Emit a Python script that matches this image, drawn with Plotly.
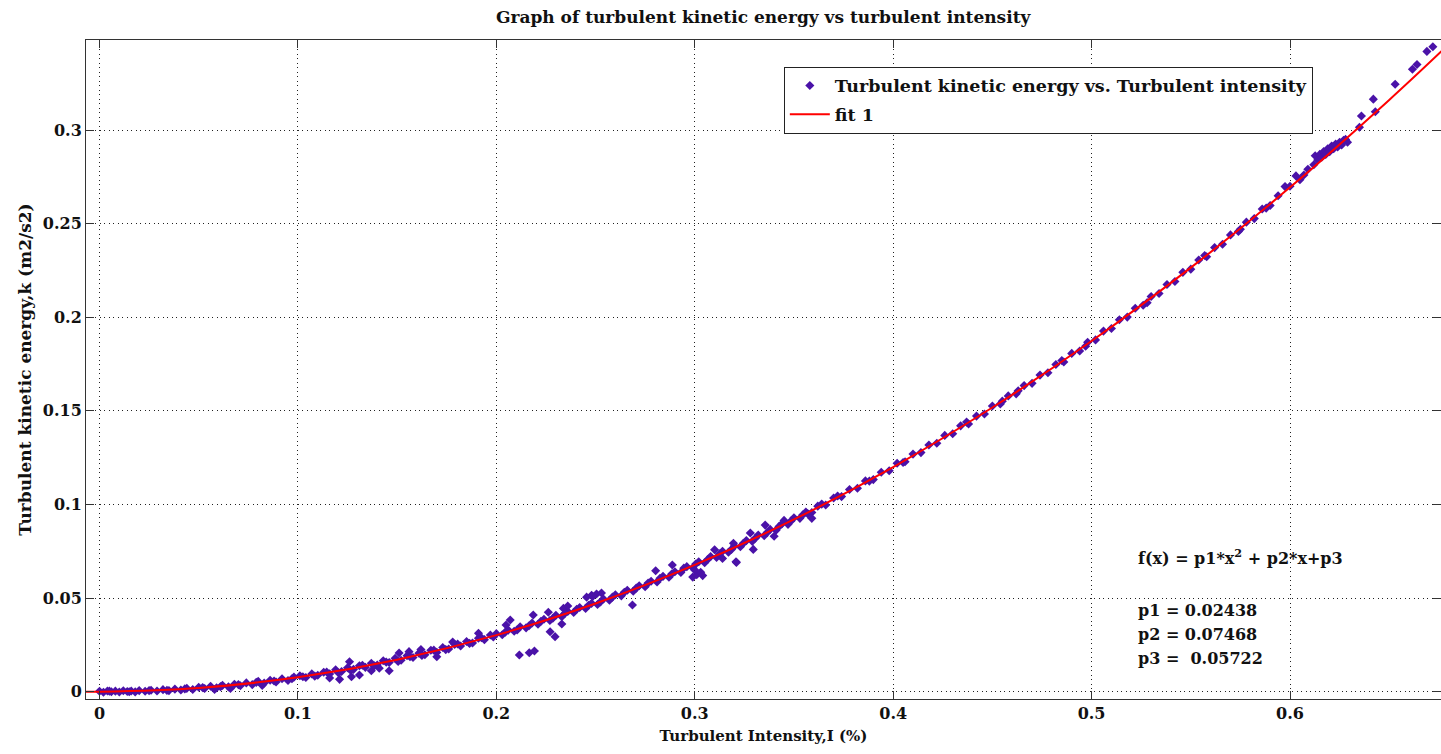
import plotly.graph_objects as go

# ---- data ----
# measured points: turbulent intensity (x) and turbulent kinetic energy (y)
intensity_low = [0.000, 0.002, 0.004, 0.006, 0.008, 0.010, 0.012, 0.014, 0.016, 0.018,
                 0.020, 0.023, 0.026, 0.029, 0.032, 0.035, 0.038, 0.041, 0.044, 0.047,
                 0.050, 0.053, 0.056, 0.059, 0.062, 0.065, 0.068, 0.071, 0.074, 0.077,
                 0.080, 0.083, 0.086, 0.089, 0.092, 0.095, 0.098, 0.082, 0.066, 0.058,
                 0.005, 0.015, 0.025, 0.034, 0.043, 0.052, 0.061, 0.070, 0.079, 0.088, 0.097]
tke_low = [0.0002, -0.0003, 0.0004, 0.0000, 0.0003, -0.0002, 0.0005, 0.0001, 0.0004, -0.0001,
           0.0006, 0.0002, 0.0008, 0.0004, 0.0011, 0.0006, 0.0014, 0.0009, 0.0018, 0.0012,
           0.0024, 0.0017, 0.0029, 0.0021, 0.0034, 0.0026, 0.0040, 0.0032, 0.0047, 0.0038,
           0.0055, 0.0046, 0.0061, 0.0052, 0.0069, 0.0060, 0.0078, 0.0034, 0.0017, 0.0012,
           0.0003, 0.0000, 0.0006, 0.0007, 0.0015, 0.0022, 0.0027, 0.0038, 0.0050, 0.0057, 0.0069]

intensity_mid = [0.101, 0.104, 0.107, 0.110, 0.113, 0.116, 0.119, 0.122, 0.125, 0.128,
                 0.131, 0.134, 0.137, 0.140, 0.143, 0.146, 0.149, 0.152, 0.155, 0.158,
                 0.161, 0.164, 0.167, 0.170, 0.173, 0.176, 0.179, 0.182, 0.185, 0.188,
                 0.191, 0.194, 0.197,
                 0.116, 0.121, 0.127, 0.131, 0.137, 0.141, 0.146, 0.126, 0.151, 0.156,
                 0.170, 0.191, 0.162, 0.178,
                 0.1025, 0.1085, 0.1145, 0.1205, 0.1265, 0.1325, 0.1385, 0.1445, 0.1505,
                 0.1565, 0.1625, 0.1685, 0.1745, 0.1805, 0.1865, 0.1925, 0.1985]
tke_mid = [0.0085, 0.0076, 0.0095, 0.0088, 0.0104, 0.0095, 0.0117, 0.0108, 0.0128, 0.0119,
           0.0139, 0.0130, 0.0152, 0.0143, 0.0165, 0.0156, 0.0178, 0.0168, 0.0192, 0.0183,
           0.0206, 0.0197, 0.0221, 0.0210, 0.0236, 0.0228, 0.0253, 0.0244, 0.0268, 0.0260,
           0.0286, 0.0278, 0.0303,
           0.0073, 0.0066, 0.0080, 0.0089, 0.0112, 0.0125, 0.0112, 0.0160, 0.0207, 0.0214,
           0.0187, 0.0312, 0.0225, 0.0265,
           0.0080, 0.0083, 0.0105, 0.0100, 0.0115, 0.0141, 0.0138, 0.0158, 0.0161,
           0.0187, 0.0193, 0.0222, 0.0225, 0.0255, 0.0258, 0.0288, 0.0292]

intensity_noisy = [0.200, 0.203, 0.206, 0.209, 0.212, 0.215, 0.218, 0.221, 0.224, 0.227,
                   0.230, 0.233, 0.236, 0.239, 0.242, 0.245, 0.248, 0.251, 0.254, 0.257,
                   0.260, 0.263, 0.266, 0.269, 0.272, 0.275, 0.278, 0.281, 0.284, 0.287,
                   0.290, 0.293, 0.296, 0.299, 0.302, 0.305, 0.308, 0.311, 0.314, 0.317,
                   0.320, 0.323, 0.326, 0.329, 0.332, 0.335, 0.338, 0.341, 0.344, 0.347,
                   0.350, 0.353, 0.356, 0.359,
                   0.2116, 0.2166, 0.2192, 0.2296, 0.2271, 0.2330, 0.2070, 0.2186, 0.2262,
                   0.2338, 0.2360, 0.2455, 0.2480, 0.2505, 0.2530, 0.2486, 0.2686, 0.2803,
                   0.2887, 0.2990, 0.3010, 0.3030, 0.3040, 0.3000, 0.3208, 0.3195, 0.2049,
                   0.3210, 0.3295, 0.3355, 0.3590, 0.3280, 0.3100, 0.3140, 0.3400, 0.3450,
                   0.2045, 0.2105, 0.2165, 0.2225, 0.2285, 0.2345, 0.2405, 0.2465, 0.2525,
                   0.2585, 0.2645, 0.2705, 0.2765, 0.2825, 0.2885, 0.2945, 0.3005, 0.3065,
                   0.3125, 0.3185, 0.3245, 0.3305, 0.3365, 0.3425, 0.3485, 0.3545]
tke_noisy = [0.0310, 0.0304, 0.0329, 0.0323, 0.0347, 0.0341, 0.0367, 0.0360, 0.0387, 0.0380,
             0.0408, 0.0401, 0.0429, 0.0423, 0.0450, 0.0445, 0.0472, 0.0466, 0.0495, 0.0489,
             0.0518, 0.0512, 0.0542, 0.0537, 0.0566, 0.0561, 0.0590, 0.0586, 0.0616, 0.0611,
             0.0641, 0.0637, 0.0668, 0.0662, 0.0694, 0.0689, 0.0722, 0.0717, 0.0750, 0.0745,
             0.0778, 0.0774, 0.0807, 0.0803, 0.0837, 0.0833, 0.0867, 0.0863, 0.0897, 0.0894,
             0.0929, 0.0926, 0.0960, 0.0957,
             0.0196, 0.0208, 0.0217, 0.0294, 0.0320, 0.0362, 0.0383, 0.0410, 0.0424,
             0.0445, 0.0458, 0.0505, 0.0515, 0.0522, 0.0527, 0.0509, 0.0463, 0.0646,
             0.0677, 0.0612, 0.0625, 0.0638, 0.0620, 0.0650, 0.0694, 0.0793, 0.0356,
             0.0690, 0.0760, 0.0890, 0.0926, 0.0848, 0.0758, 0.0712, 0.0830, 0.0915,
             0.0318, 0.0330, 0.0352, 0.0376, 0.0392, 0.0418, 0.0440, 0.0462, 0.0480,
             0.0505, 0.0531, 0.0553, 0.0581, 0.0606, 0.0630, 0.0660, 0.0682, 0.0706,
             0.0737, 0.0760, 0.0793, 0.0820, 0.0850, 0.0883, 0.0912, 0.0945]

intensity_high = [0.362, 0.366, 0.370, 0.374, 0.378, 0.382, 0.386, 0.390, 0.394, 0.398,
                  0.402, 0.406, 0.410, 0.414, 0.418, 0.422, 0.426, 0.430, 0.434, 0.438,
                  0.442, 0.446, 0.450, 0.454, 0.458, 0.462, 0.466, 0.470, 0.474, 0.478,
                  0.482, 0.486, 0.490, 0.494, 0.498, 0.502, 0.506, 0.510, 0.514, 0.518,
                  0.522, 0.526, 0.530, 0.534, 0.538, 0.542, 0.546, 0.550, 0.554, 0.558,
                  0.562, 0.566, 0.570, 0.574, 0.578, 0.582, 0.586, 0.590, 0.594,
                  0.357, 0.364, 0.372, 0.388, 0.405, 0.437, 0.455, 0.463, 0.485, 0.497,
                  0.528, 0.557, 0.575, 0.588]
tke_high = [0.0991, 0.0997, 0.1035, 0.1042, 0.1080, 0.1087, 0.1126, 0.1133, 0.1172, 0.1180,
            0.1220, 0.1228, 0.1269, 0.1277, 0.1318, 0.1327, 0.1369, 0.1378, 0.1420, 0.1430,
            0.1472, 0.1483, 0.1526, 0.1537, 0.1580, 0.1591, 0.1635, 0.1647, 0.1691, 0.1704,
            0.1748, 0.1761, 0.1807, 0.1820, 0.1866, 0.1879, 0.1926, 0.1940, 0.1987, 0.2001,
            0.2048, 0.2064, 0.2111, 0.2127, 0.2175, 0.2191, 0.2240, 0.2257, 0.2306, 0.2323,
            0.2372, 0.2390, 0.2440, 0.2458, 0.2508, 0.2527, 0.2578, 0.2597, 0.2649,
            0.0950, 0.1002, 0.1045, 0.1125, 0.1224, 0.1440, 0.1552, 0.1607, 0.1769, 0.1845,
            0.2078, 0.2330, 0.2470, 0.2583]

intensity_top = [0.5975, 0.600, 0.603, 0.605, 0.607, 0.609, 0.6127, 0.612, 0.614, 0.615,
                 0.616, 0.617, 0.618, 0.619, 0.620, 0.621, 0.622, 0.623, 0.624, 0.625,
                 0.626, 0.627, 0.628, 0.629,
                 0.635, 0.636, 0.642, 0.643, 0.653, 0.6617, 0.664, 0.669, 0.672]
tke_top = [0.2698, 0.2700, 0.2755, 0.2735, 0.2760, 0.2790, 0.2863, 0.2815, 0.2840, 0.2870,
           0.2855, 0.2885, 0.2870, 0.2900, 0.2885, 0.2915, 0.2900, 0.2925, 0.2910, 0.2935,
           0.2920, 0.2945, 0.2950, 0.2935,
           0.3015, 0.3075, 0.3165, 0.3098, 0.3245, 0.3325, 0.3350, 0.3420, 0.3445]

# fitted curve ("fit 1")
fit_x = [-0.0068, 0.0, 0.05, 0.10, 0.15, 0.20, 0.25, 0.30, 0.35, 0.40, 0.45, 0.50, 0.55, 0.60, 0.65, 0.68]
fit_y = [0.0000, 0.0000, 0.0020, 0.0077, 0.0171, 0.0302, 0.0471, 0.0677, 0.0920, 0.1200, 0.1518,
         0.1873, 0.2265, 0.2694, 0.3161, 0.3458]

fit_label_lines = ["f(x) = p1*x<sup>2</sup> + p2*x+p3", "p1 = 0.02438", "p2 = 0.07468", "p3 =\u00a0 0.05722"]

xticks = [0, 0.1, 0.2, 0.3, 0.4, 0.5, 0.6]
yticks = [0, 0.05, 0.1, 0.15, 0.2, 0.25, 0.3]

intensity = intensity_low + intensity_mid + intensity_noisy + intensity_high + intensity_top
tke = tke_low + tke_mid + tke_noisy + tke_high + tke_top

FONT = "DejaVu Serif"

fig = go.Figure()
fig.add_trace(go.Scatter(
    x=intensity, y=tke, mode="markers",
    name="Turbulent kinetic energy vs. Turbulent intensity",
    legendgroup="a",
    marker=dict(symbol="diamond", size=7, color="#4a12a8", line=dict(width=0)),
))
fig.add_trace(go.Scatter(
    x=fit_x, y=fit_y, mode="lines", name="fit 1", legendgroup="b",
    line=dict(color="#ff0000", width=2, shape="spline"),
))

axis_common = dict(
    showline=True, linecolor="#333333", linewidth=1, mirror="allticks",
    ticks="inside", ticklen=8, tickcolor="#333333", tickwidth=1,
    showgrid=True, gridcolor="#222222", griddash="1px,3.5px", gridwidth=1,
    zeroline=False,
    tickfont=dict(family=FONT, size=16, color="#111111", weight="bold"),
)

fig.update_layout(
    width=1441, height=754,
    margin=dict(l=86, r=0, t=40, b=55),
    paper_bgcolor="white", plot_bgcolor="white",
    title=dict(text="Graph of turbulent kinetic energy vs turbulent intensity",
               x=0.5296, xanchor="center", y=0.977, yanchor="middle",
               font=dict(family=FONT, size=17, color="#111111", weight="bold")),
    xaxis=dict(range=[-0.0068, 0.6761], tickvals=xticks,
               title=dict(text="Turbulent Intensity,I (%)", standoff=8,
                          font=dict(family=FONT, size=15, color="#111111", weight="bold")),
               **axis_common),
    yaxis=dict(range=[-0.0039, 0.3481], tickvals=yticks,
               title=dict(text="Turbulent kinetic energy,k (m2/s2)", standoff=6,
                          font=dict(family=FONT, size=17, color="#111111", weight="bold")),
               **axis_common),
    legend=dict(x=0.515, y=0.9595, xanchor="left", yanchor="top",
                bgcolor="white", bordercolor="#222222", borderwidth=1,
                font=dict(family=FONT, size=17.5, color="#111111", weight="bold"),
                traceorder="grouped", tracegroupgap=3, itemwidth=40),
    showlegend=True,
)

ann_y = [0.0720, 0.0435, 0.0307, 0.0179]
for txt, yy in zip(fit_label_lines, ann_y):
    fig.add_annotation(x=0.5224, y=yy, xref="x", yref="y", text=txt, showarrow=False,
                       xanchor="left", yanchor="middle",
                       font=dict(family=FONT, size=16, color="#111111", weight="bold"))

fig.write_html("out.html")
